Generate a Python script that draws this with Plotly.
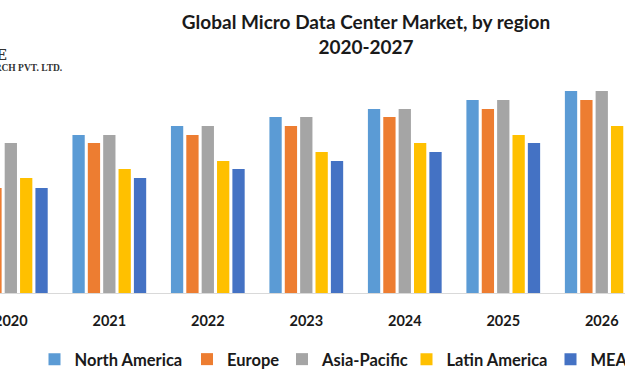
import plotly.graph_objects as go

years = ["2020", "2021", "2022", "2023", "2024", "2025", "2026", "2027"]
north_america = [15.0, 15.8, 16.7, 17.6, 18.4, 19.3, 20.2, 21.0]
europe = [10.5, 15.0, 15.8, 16.7, 17.6, 18.4, 19.3, 20.2]
asia_pacific = [15.0, 15.8, 16.7, 17.6, 18.4, 19.3, 20.2, 21.0]
latin_america = [11.5, 12.4, 13.2, 14.1, 15.0, 15.8, 16.7, 17.6]
mea = [10.5, 11.5, 12.4, 13.2, 14.1, 15.0, 15.8, 16.7]

series = [
    ("North America", north_america, "#5B9BD5"),
    ("Europe", europe, "#ED7D31"),
    ("Asia-Pacific", asia_pacific, "#A5A5A5"),
    ("Latin America", latin_america, "#FFC000"),
    ("MEA", mea, "#4472C4"),
]
# approximate legend swatch centres (px) in the reference
legend_swatch_x = [64, 216.5, 311.5, 436, 580]

FONT = "Lato"
fig = go.Figure()
legend_layouts = {}
for i, (name, vals, col) in enumerate(series):
    key = "legend" if i == 0 else f"legend{i+1}"
    fig.add_trace(go.Bar(x=years, y=vals, name=name, marker_color=col,
                         marker_line_width=0, legend=key))
    legend_layouts[key] = dict(
        orientation="h", x=(legend_swatch_x[i] - 29.5) / 625, xanchor="left",
        y=-0.285, yanchor="middle", bgcolor="rgba(0,0,0,0)",
        font=dict(family=FONT, size=16.5, color="#1a1a1a", weight="bold"),
        itemwidth=30,
    )

fig.update_layout(
    width=625, height=375,
    margin=dict(l=0, r=0, t=60, b=82, autoexpand=False),
    paper_bgcolor="white", plot_bgcolor="white",
    barmode="group", bargap=0.22, bargroupgap=0.2,
    showlegend=True,
    title=dict(
        text="<b>Global Micro Data Center Market, by region<br>2020-2027</b>",
        x=366 / 625, xanchor="center", y=0.923, yanchor="top",
        font=dict(family=FONT, size=19, color="#1a1a1a"),
    ),
    xaxis=dict(
        type="category", range=[-0.11, 6.236],
        showgrid=False, showline=True, linecolor="#D9D9D9", linewidth=1,
        ticks="", ticklabelstandoff=15,
        tickfont=dict(family=FONT, size=14.5, color="#1a1a1a", weight="bold"),
    ),
    yaxis=dict(range=[0, 23.3], visible=False),
    **legend_layouts,
)

fig.add_annotation(text="<b>MAXIMIZE</b>", xref="paper", yref="paper", x=9/625, xanchor="right",
                   y=(293-55)/233, yanchor="middle", showarrow=False,
                   font=dict(family="DejaVu Serif", size=15, color="#333333"))
fig.add_annotation(text="<b>MARKET RESEARCH PVT. LTD.</b>", xref="paper", yref="paper", x=64/625, xanchor="right",
                   y=(293-68)/233, yanchor="middle", showarrow=False,
                   font=dict(family="Liberation Serif", size=9.5, color="#333333"))

fig.write_html("out.html", config={"displayModeBar": False},
               post_script="document.body.style.margin='0';")
